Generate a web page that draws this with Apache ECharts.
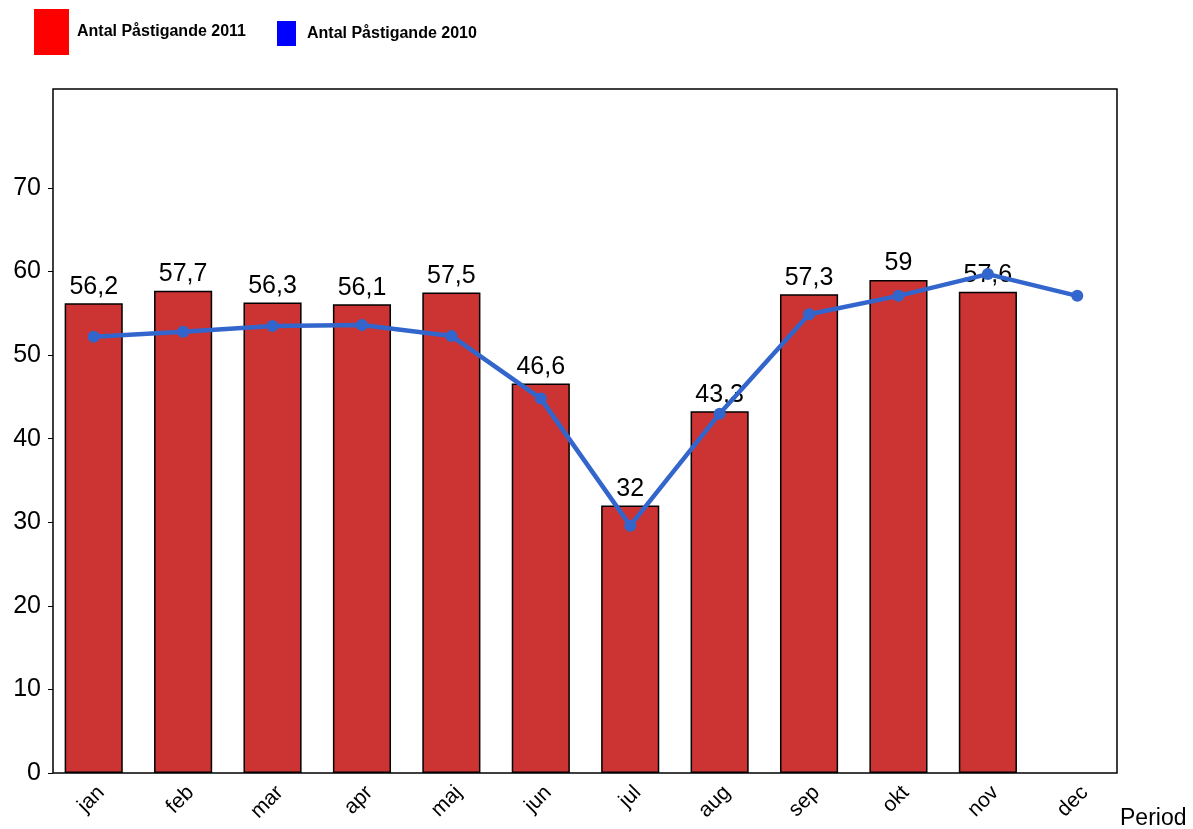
<!DOCTYPE html>
<html><head><meta charset="utf-8">
<script src="https://cdn.jsdelivr.net/npm/echarts@6/dist/echarts.min.js"></script>
<style>html,body{margin:0;padding:0;background:#fff}#c{width:1193px;height:829px}</style>
</head><body><div id="c"></div>
<script>
const categories = ['jan','feb','mar','apr','maj','jun','jul','aug','sep','okt','nov','dec'];
const values2011 = [56.2,57.7,56.3,56.1,57.5,46.6,32,43.3,57.3,59,57.6,null];
const values2010 = [52.2,52.8,53.5,53.6,52.3,44.8,29.6,43.0,54.9,57.1,59.7,57.1];
const yTicks = [0,10,20,30,40,50,60,70];
const name2011 = 'Antal Påstigande 2011';
const name2010 = 'Antal Påstigande 2010';

const chart = echarts.init(document.getElementById('c'));
const font = '"Liberation Sans", Arial, sans-serif';
chart.setOption({
  animation: false,
  textStyle: {fontFamily: font},
  legend: [
    {left: 34, top: 9, padding: 0, itemWidth: 35, itemHeight: 46, icon: 'rect',
     data: [{name: name2011, itemStyle: {color: '#ff0000', borderWidth: 0}}],
     textStyle: {fontSize: 16, fontWeight: 'bold', color: '#000', fontFamily: font, padding: [0,0,0,3]}},
    {left: 277, top: 21, padding: 0, itemWidth: 19, itemHeight: 25, icon: 'rect',
     data: [{name: name2010, itemStyle: {color: '#0000ff', borderWidth: 0}, lineStyle: {opacity: 0}}],
     textStyle: {fontSize: 16, fontWeight: 'bold', color: '#000', fontFamily: font, padding: [0,0,0,6]}}
  ],
  grid: {left: 49, right: 71, top: 89, bottom: 56},
  xAxis: {
    type: 'category', data: categories,
    axisLine: {show: false},
    axisTick: {show: false},
    axisLabel: {rotate: 45, fontSize: 21, color: '#000', margin: 9, verticalAlign: 'top', fontFamily: font}
  },
  yAxis: {
    type: 'value', min: 0, max: 81.85, interval: 10, offset: -4,
    splitLine: {show: false},
    axisLine: {show: false},
    axisTick: {show: true, length: 5, lineStyle: {color: '#000'}, customValues: yTicks},
    axisLabel: {fontSize: 25, color: '#000', margin: 12, fontFamily: font, customValues: yTicks}
  },
  graphic: [
    {type: 'rect', z: 0, silent: true,
     shape: {x: 53, y: 89, width: 1064, height: 684}, style: {fill: 'none', stroke: '#000', lineWidth: 1.5}},
    {type: 'text', left: 1120, top: 807, style: {text: 'Period', font: '23px ' + font, fill: '#000'}}
  ],
  series: [
    {name: name2011, type: 'bar', data: values2011, barWidth: '65%',
     itemStyle: {color: '#cc3333', borderColor: '#000', borderWidth: 1.5},
     label: {show: true, position: 'top', fontSize: 25, color: '#000', distance: 4, fontFamily: font,
       formatter: p => String(p.value).replace('.', ',')}},
    {name: name2010, type: 'line', data: values2010, symbol: 'circle', symbolSize: 12,
     lineStyle: {color: '#3366cc', width: 4.5}, itemStyle: {color: '#3366cc'}, z: 5}
  ]
});
</script></body></html>
